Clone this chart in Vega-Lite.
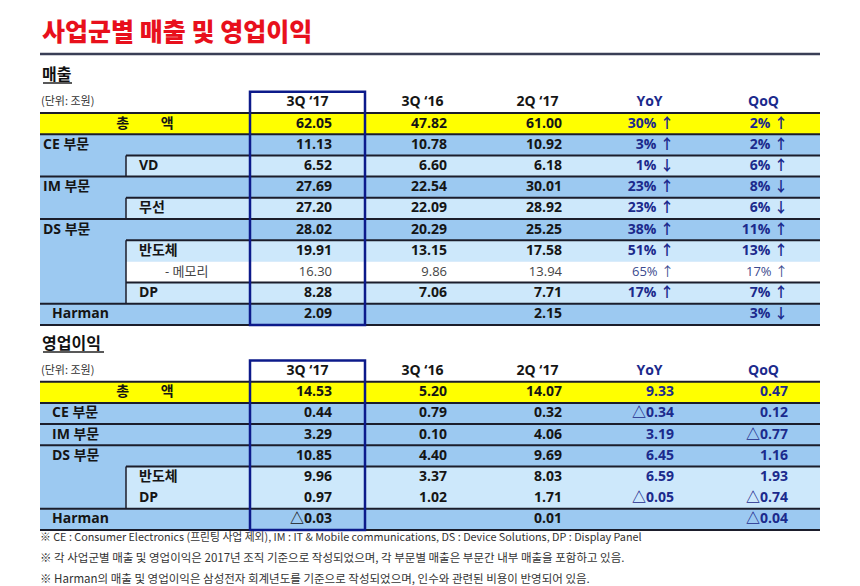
{
  "$schema": "https://vega.github.io/schema/vega-lite/v6.json",
  "width": 860,
  "height": 586,
  "padding": 0,
  "autosize": {"type": "none"},
  "background": "#ffffff",
  "config": {"view": {"stroke": null}, "text": {"font": "Open Sans, Noto Sans CJK KR"}},
  "datasets": {
    "cells": [
      {"c": 0, "c2": 7, "r": 0, "r2": 1, "kind": "total"},
      {"c": 0, "c2": 7, "r": 1, "r2": 3, "kind": "group"},
      {"c": 1, "c2": 7, "r": 2, "r2": 3, "kind": "sub"},
      {"c": 0, "c2": 7, "r": 3, "r2": 5, "kind": "group"},
      {"c": 1, "c2": 7, "r": 4, "r2": 5, "kind": "sub"},
      {"c": 0, "c2": 7, "r": 5, "r2": 9, "kind": "group"},
      {"c": 1, "c2": 7, "r": 6, "r2": 7, "kind": "sub"},
      {"c": 1, "c2": 7, "r": 7, "r2": 8, "kind": "memo"},
      {"c": 1, "c2": 7, "r": 8, "r2": 9, "kind": "sub"},
      {"c": 0, "c2": 7, "r": 9, "r2": 10, "kind": "group"},
      {"c": 0, "c2": 7, "r": 13, "r2": 14, "kind": "total"},
      {"c": 0, "c2": 7, "r": 14, "r2": 15, "kind": "group"},
      {"c": 0, "c2": 7, "r": 15, "r2": 16, "kind": "group"},
      {"c": 0, "c2": 7, "r": 16, "r2": 19, "kind": "group"},
      {"c": 1, "c2": 7, "r": 17, "r2": 19, "kind": "sub"},
      {"c": 0, "c2": 7, "r": 19, "r2": 20, "kind": "group"}
    ],
    "hlines": [
      {"c": 0, "c2": 7, "r": 0}, {"c": 0, "c2": 7, "r": 1}, {"c": 1, "c2": 7, "r": 2},
      {"c": 0, "c2": 7, "r": 3}, {"c": 1, "c2": 7, "r": 4}, {"c": 0, "c2": 7, "r": 5},
      {"c": 1, "c2": 7, "r": 6}, {"c": 1, "c2": 7, "r": 8}, {"c": 0, "c2": 7, "r": 9},
      {"c": 0, "c2": 7, "r": 10},
      {"c": 0, "c2": 7, "r": 13}, {"c": 0, "c2": 7, "r": 14}, {"c": 0, "c2": 7, "r": 15},
      {"c": 0, "c2": 7, "r": 16}, {"c": 1, "c2": 7, "r": 17}, {"c": 0, "c2": 7, "r": 19},
      {"c": 0, "c2": 7, "r": 20}
    ],
    "vlines": [
      {"c": 1, "r": 2, "r2": 3}, {"c": 1, "r": 4, "r2": 5}, {"c": 1, "r": 6, "r2": 9},
      {"c": 1, "r": 17, "r2": 19}
    ],
    "boxes": [
      {"c": 2, "c2": 3, "r": -1, "r2": 10},
      {"c": 2, "c2": 3, "r": 12, "r2": 20}
    ],
    "headers": [
      {"r": -1, "c": 2, "t": "3Q ‘17"}, {"r": -1, "c": 3, "t": "3Q ‘16"}, {"r": -1, "c": 4, "t": "2Q ‘17"},
      {"r": -1, "c": 5, "t": "YoY"}, {"r": -1, "c": 6, "t": "QoQ"},
      {"r": 12, "c": 2, "t": "3Q ‘17"}, {"r": 12, "c": 3, "t": "3Q ‘16"}, {"r": 12, "c": 4, "t": "2Q ‘17"},
      {"r": 12, "c": 5, "t": "YoY"}, {"r": 12, "c": 6, "t": "QoQ"}
    ],
    "labels": [
      {"r": 0, "c": 0, "t": "총　　 액", "kind": "total"},
      {"r": 1, "c": 0, "t": "CE 부문", "kind": "group"},
      {"r": 2, "c": 1, "t": "VD", "kind": "sub"},
      {"r": 3, "c": 0, "t": "IM 부문", "kind": "group"},
      {"r": 4, "c": 1, "t": "무선", "kind": "sub"},
      {"r": 5, "c": 0, "t": "DS 부문", "kind": "group"},
      {"r": 6, "c": 1, "t": "반도체", "kind": "sub"},
      {"r": 7, "c": 1, "t": "- 메모리", "kind": "memo"},
      {"r": 8, "c": 1, "t": "DP", "kind": "sub"},
      {"r": 9, "c": 0, "t": "Harman", "kind": "group2"},
      {"r": 13, "c": 0, "t": "총　　 액", "kind": "total"},
      {"r": 14, "c": 0, "t": "CE 부문", "kind": "group2"},
      {"r": 15, "c": 0, "t": "IM 부문", "kind": "group2"},
      {"r": 16, "c": 0, "t": "DS 부문", "kind": "group2"},
      {"r": 17, "c": 1, "t": "반도체", "kind": "sub"},
      {"r": 18, "c": 1, "t": "DP", "kind": "sub"},
      {"r": 19, "c": 0, "t": "Harman", "kind": "group2"}
    ],
    "values": [
      {"r": 0, "c": 2, "v": "62.05"}, {"r": 0, "c": 3, "v": "47.82"}, {"r": 0, "c": 4, "v": "61.00"}, {"r": 0, "c": 5, "v": "30% ↑"}, {"r": 0, "c": 6, "v": "2% ↑"},
      {"r": 1, "c": 2, "v": "11.13"}, {"r": 1, "c": 3, "v": "10.78"}, {"r": 1, "c": 4, "v": "10.92"}, {"r": 1, "c": 5, "v": "3% ↑"}, {"r": 1, "c": 6, "v": "2% ↑"},
      {"r": 2, "c": 2, "v": "6.52"}, {"r": 2, "c": 3, "v": "6.60"}, {"r": 2, "c": 4, "v": "6.18"}, {"r": 2, "c": 5, "v": "1% ↓"}, {"r": 2, "c": 6, "v": "6% ↑"},
      {"r": 3, "c": 2, "v": "27.69"}, {"r": 3, "c": 3, "v": "22.54"}, {"r": 3, "c": 4, "v": "30.01"}, {"r": 3, "c": 5, "v": "23% ↑"}, {"r": 3, "c": 6, "v": "8% ↓"},
      {"r": 4, "c": 2, "v": "27.20"}, {"r": 4, "c": 3, "v": "22.09"}, {"r": 4, "c": 4, "v": "28.92"}, {"r": 4, "c": 5, "v": "23% ↑"}, {"r": 4, "c": 6, "v": "6% ↓"},
      {"r": 5, "c": 2, "v": "28.02"}, {"r": 5, "c": 3, "v": "20.29"}, {"r": 5, "c": 4, "v": "25.25"}, {"r": 5, "c": 5, "v": "38% ↑"}, {"r": 5, "c": 6, "v": "11% ↑"},
      {"r": 6, "c": 2, "v": "19.91"}, {"r": 6, "c": 3, "v": "13.15"}, {"r": 6, "c": 4, "v": "17.58"}, {"r": 6, "c": 5, "v": "51% ↑"}, {"r": 6, "c": 6, "v": "13% ↑"},
      {"r": 7, "c": 2, "v": "16.30"}, {"r": 7, "c": 3, "v": "9.86"}, {"r": 7, "c": 4, "v": "13.94"}, {"r": 7, "c": 5, "v": "65% ↑"}, {"r": 7, "c": 6, "v": "17% ↑"},
      {"r": 8, "c": 2, "v": "8.28"}, {"r": 8, "c": 3, "v": "7.06"}, {"r": 8, "c": 4, "v": "7.71"}, {"r": 8, "c": 5, "v": "17% ↑"}, {"r": 8, "c": 6, "v": "7% ↑"},
      {"r": 9, "c": 2, "v": "2.09"}, {"r": 9, "c": 4, "v": "2.15"}, {"r": 9, "c": 6, "v": "3% ↓"},
      {"r": 13, "c": 2, "v": "14.53"}, {"r": 13, "c": 3, "v": "5.20"}, {"r": 13, "c": 4, "v": "14.07"}, {"r": 13, "c": 5, "v": "9.33"}, {"r": 13, "c": 6, "v": "0.47"},
      {"r": 14, "c": 2, "v": "0.44"}, {"r": 14, "c": 3, "v": "0.79"}, {"r": 14, "c": 4, "v": "0.32"}, {"r": 14, "c": 5, "v": "△0.34"}, {"r": 14, "c": 6, "v": "0.12"},
      {"r": 15, "c": 2, "v": "3.29"}, {"r": 15, "c": 3, "v": "0.10"}, {"r": 15, "c": 4, "v": "4.06"}, {"r": 15, "c": 5, "v": "3.19"}, {"r": 15, "c": 6, "v": "△0.77"},
      {"r": 16, "c": 2, "v": "10.85"}, {"r": 16, "c": 3, "v": "4.40"}, {"r": 16, "c": 4, "v": "9.69"}, {"r": 16, "c": 5, "v": "6.45"}, {"r": 16, "c": 6, "v": "1.16"},
      {"r": 17, "c": 2, "v": "9.96"}, {"r": 17, "c": 3, "v": "3.37"}, {"r": 17, "c": 4, "v": "8.03"}, {"r": 17, "c": 5, "v": "6.59"}, {"r": 17, "c": 6, "v": "1.93"},
      {"r": 18, "c": 2, "v": "0.97"}, {"r": 18, "c": 3, "v": "1.02"}, {"r": 18, "c": 4, "v": "1.71"}, {"r": 18, "c": 5, "v": "△0.05"}, {"r": 18, "c": 6, "v": "△0.74"},
      {"r": 19, "c": 2, "v": "△0.03"}, {"r": 19, "c": 4, "v": "0.01"}, {"r": 19, "c": 6, "v": "△0.04"}
    ],
    "notes": [
      {"r": 21, "c": 0, "t": "※ CE : Consumer Electronics (프린팅 사업 제외),  IM : IT & Mobile communications,  DS : Device Solutions,  DP : Display Panel"},
      {"r": 22, "c": 0, "t": "※ 각 사업군별 매출 및 영업이익은 2017년 조직 기준으로 작성되었으며, 각 부문별 매출은 부문간 내부 매출을 포함하고 있음."},
      {"r": 23, "c": 0, "t": "※ Harman의 매출 및 영업이익은 삼성전자 회계년도를 기준으로 작성되었으며, 인수와 관련된 비용이 반영되어 있음."}
    ]
  },
  "encoding": {
    "x": {"field": "c", "type": "quantitative", "axis": null,
          "scale": {"domain": [0, 1, 2, 3, 4, 5, 6, 7], "range": [40, 126, 250, 365, 480, 592, 706, 820], "nice": false, "zero": false}},
    "y": {"field": "r", "type": "quantitative", "axis": null,
          "scale": {"domain": [-4, -3, -2, -1, 0, 10, 11, 12, 13, 20, 21, 23], "range": [33, 54, 75, 91.8, 113, 325, 344, 360.5, 381.7, 530, 538, 580], "nice": false, "zero": false}}
  },
  "layer": [
    {
      "data": {"name": "cells"},
      "mark": {"type": "rect"},
      "encoding": {
        "x2": {"field": "c2"},
        "y2": {"field": "r2"},
        "fill": {"field": "kind", "type": "nominal", "legend": null,
                 "scale": {"domain": ["total", "group", "sub", "memo"], "range": ["#ffff00", "#9cc9f1", "#cde8fb", "#ffffff"]}}
      }
    },
    {
      "data": {"name": "hlines"},
      "mark": {"type": "rule", "color": "#1b1d2b", "strokeWidth": 2},
      "encoding": {"x2": {"field": "c2"}}
    },
    {
      "data": {"name": "vlines"},
      "mark": {"type": "rule", "color": "#1b1d2b", "strokeWidth": 1.5},
      "encoding": {"y2": {"field": "r2"}}
    },
    {
      "data": {"name": "boxes"},
      "mark": {"type": "rect", "fill": null, "fillOpacity": 0, "stroke": "#0c1a8a", "strokeWidth": 2.5},
      "encoding": {"x2": {"field": "c2"}, "y2": {"field": "r2"}}
    },
    {
      "data": {"values": [{"c": 0, "c2": 7, "r": -3}]},
      "mark": {"type": "rule", "color": "#3a3e56", "strokeWidth": 2.5},
      "encoding": {"x2": {"field": "c2"}}
    },
    {
      "data": {"values": [{"c": 0, "r": -2}]},
      "mark": {"type": "rule", "color": "#222222", "strokeWidth": 1.5, "xOffset": 3, "x2Offset": 32, "yOffset": 8},
      "encoding": {"x2": {"field": "c"}}
    },
    {
      "data": {"values": [{"c": 0, "r": 11}]},
      "mark": {"type": "rule", "color": "#222222", "strokeWidth": 1.5, "xOffset": 3, "x2Offset": 64, "yOffset": 8},
      "encoding": {"x2": {"field": "c"}}
    },
    {
      "data": {"values": [{"c": 0, "r": -4, "t": "사업군별 매출 및 영업이익"}]},
      "mark": {"type": "text", "align": "left", "baseline": "middle", "dx": 2, "fontSize": 25, "fontWeight": 900, "font": "Noto Sans CJK KR", "color": "#e8101c"},
      "encoding": {"text": {"field": "t"}}
    },
    {
      "data": {"values": [{"c": 0, "r": -2, "t": "매출"}, {"c": 0, "r": 11, "t": "영업이익"}]},
      "mark": {"type": "text", "align": "left", "baseline": "middle", "dx": 2, "fontSize": 16, "fontWeight": "bold", "font": "Noto Sans CJK KR", "color": "#111111"},
      "encoding": {"text": {"field": "t"}}
    },
    {
      "data": {"values": [{"c": 0, "r": -1, "t": "(단위: 조원)"}, {"c": 0, "r": 12, "t": "(단위: 조원)"}]},
      "mark": {"type": "text", "align": "left", "baseline": "middle", "dx": 1, "dy": 10.6, "fontSize": 11, "font": "Noto Sans CJK KR", "color": "#333333"},
      "encoding": {"text": {"field": "t"}}
    },
    {
      "data": {"name": "headers"},
      "mark": {"type": "text", "align": "center", "baseline": "middle", "dx": 57.5, "dy": 10.6, "fontSize": 14, "fontWeight": "bold"},
      "encoding": {
        "text": {"field": "t"},
        "color": {"condition": {"test": "datum.c >= 5", "value": "#1b2a8c"}, "value": "#151515"}
      }
    },
    {
      "data": {"name": "labels"},
      "transform": [{"filter": "datum.kind == 'group'"}],
      "mark": {"type": "text", "align": "left", "baseline": "middle", "dx": 3, "dy": 10.6, "fontSize": 14, "fontWeight": "bold", "color": "#151515"},
      "encoding": {"text": {"field": "t"}}
    },
    {
      "data": {"name": "labels"},
      "transform": [{"filter": "datum.kind == 'group2'"}],
      "mark": {"type": "text", "align": "left", "baseline": "middle", "dx": 12, "dy": 10.6, "fontSize": 14, "fontWeight": "bold", "color": "#151515"},
      "encoding": {"text": {"field": "t"}}
    },
    {
      "data": {"name": "labels"},
      "transform": [{"filter": "datum.kind == 'sub'"}],
      "mark": {"type": "text", "align": "left", "baseline": "middle", "dx": 13, "dy": 10.6, "fontSize": 14, "fontWeight": "bold", "color": "#151515"},
      "encoding": {"text": {"field": "t"}}
    },
    {
      "data": {"name": "labels"},
      "transform": [{"filter": "datum.kind == 'total'"}],
      "mark": {"type": "text", "align": "center", "baseline": "middle", "dx": 105, "dy": 10.6, "fontSize": 14, "fontWeight": "bold", "color": "#151515"},
      "encoding": {"text": {"field": "t"}}
    },
    {
      "data": {"name": "labels"},
      "transform": [{"filter": "datum.kind == 'memo'"}],
      "mark": {"type": "text", "align": "left", "baseline": "middle", "dx": 39, "dy": 10.6, "fontSize": 13, "color": "#444444"},
      "encoding": {"text": {"field": "t"}}
    },
    {
      "data": {"name": "values"},
      "transform": [{"filter": "datum.r != 7"}],
      "mark": {"type": "text", "align": "right", "baseline": "middle", "dx": 82, "dy": 10.6, "fontSize": 14, "fontWeight": "bold"},
      "encoding": {
        "text": {"field": "v"},
        "color": {"condition": {"test": "datum.c >= 5", "value": "#1b2a8c"}, "value": "#151515"}
      }
    },
    {
      "data": {"name": "values"},
      "transform": [{"filter": "datum.r == 7"}],
      "mark": {"type": "text", "align": "right", "baseline": "middle", "dx": 82, "dy": 10.6, "fontSize": 13},
      "encoding": {
        "text": {"field": "v"},
        "color": {"condition": {"test": "datum.c >= 5", "value": "#3b4a8e"}, "value": "#444444"}
      }
    },
    {
      "data": {"name": "notes"},
      "transform": [{"filter": "datum.r == 21"}],
      "mark": {"type": "text", "align": "left", "baseline": "middle", "dx": 0, "fontSize": 10.8, "font": "Noto Sans CJK KR", "color": "#333333"},
      "encoding": {"text": {"field": "t"}}
    },
    {
      "data": {"name": "notes"},
      "transform": [{"filter": "datum.r != 21"}],
      "mark": {"type": "text", "align": "left", "baseline": "middle", "dx": 0, "fontSize": 11.5, "font": "Noto Sans CJK KR", "color": "#333333"},
      "encoding": {"text": {"field": "t"}}
    }
  ]
}
